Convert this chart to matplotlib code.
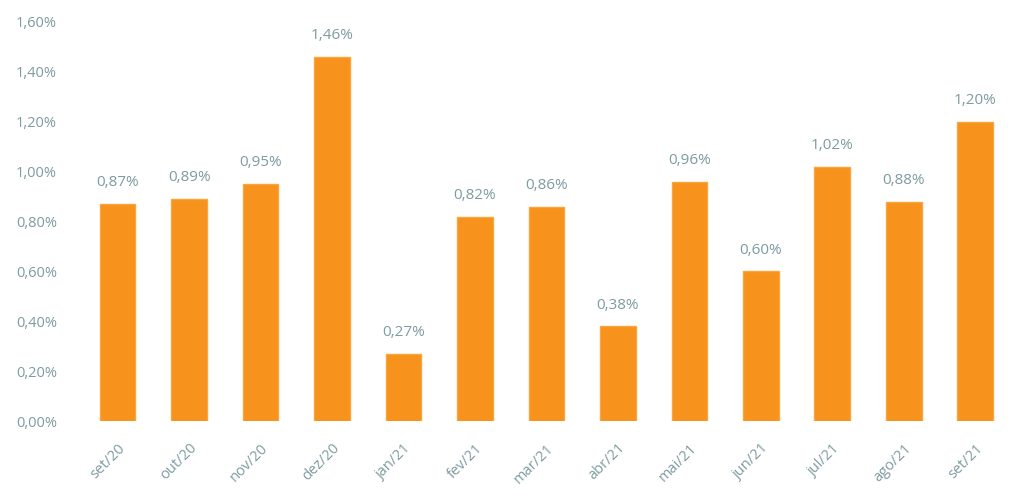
import matplotlib.pyplot as plt
import numpy as np

plt.rcParams['font.family'] = ['Open Sans', 'DejaVu Sans']

meses = ["set/20", "out/20", "nov/20", "dez/20", "jan/21", "fev/21", "mar/21",
         "abr/21", "mai/21", "jun/21", "jul/21", "ago/21", "set/21"]
valores = [0.87, 0.89, 0.95, 1.46, 0.27, 0.82, 0.86, 0.38, 0.96, 0.60, 1.02, 0.88, 1.20]
y_ticks = [0.0, 0.2, 0.4, 0.6, 0.8, 1.0, 1.2, 1.4, 1.6]

txt_cor = "#7d9ba0"

fig = plt.figure(figsize=(10.11, 4.95), dpi=100)
ax = fig.add_axes([0.081, 0.149, 0.919, 0.807])

x = np.arange(len(meses))
ax.bar(x, valores, width=0.5, color="#f7921c", edgecolor="#f9a640", linewidth=1.0)

for xi, v in zip(x, valores):
    ax.text(xi, v + 0.055, f"{v:.2f}%".replace(".", ","), ha="center", va="bottom",
            fontsize=11, color=txt_cor)

ax.set_xlim(-0.5, len(meses) - 0.5)
ax.set_ylim(0, 1.6)
ax.set_yticks(y_ticks)
ax.set_yticklabels([f"{t:.2f}%".replace(".", ",") for t in y_ticks])
ax.set_xticks(x)
ax.set_xticklabels(meses, rotation=45, ha="right", rotation_mode="anchor")
ax.tick_params(axis="both", length=0, colors=txt_cor, labelsize=10.5)
ax.tick_params(axis="y", pad=18)
ax.tick_params(axis="x", pad=14)
for s in ax.spines.values():
    s.set_visible(False)

fig.savefig("out.png", dpi=100)
